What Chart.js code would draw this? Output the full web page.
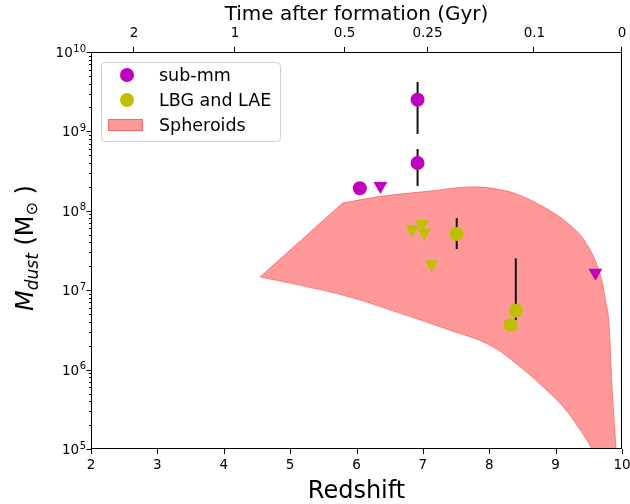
<!DOCTYPE html>
<html><head><meta charset="utf-8">
<script src="https://cdn.jsdelivr.net/npm/chart.js@4/dist/chart.umd.min.js"></script>
<style>html,body{margin:0;padding:0;background:#fff}#wrap{width:630px;height:504px}</style>
</head><body><div id="wrap"><canvas id="c" width="630" height="504"></canvas></div>
<script>
// ---- data ----
const subZ = [6.05, 6.92, 6.92];
const subM = [1.92e8, 2.5e9, 4.0e8];
const subErrLo = [null, 9.3e8, 2.05e8];
const subErrHi = [null, 4.2e9, 6.0e8];
const subLimZ = [6.36, 9.60];
const subLimM = [2.05e8, 1.66e7];

const lbgZ = [7.51, 8.40, 8.32];
const lbgM = [5.1e7, 5.5e6, 3.65e6];
const lbgErrLo = [3.3e7, 4.2e6, null];
const lbgErrHi = [8.1e7, 2.52e7, null];
const lbgLimZ = [6.84, 6.99, 7.02, 7.13];
const lbgLimM = [5.85e7, 6.8e7, 5.3e7, 2.12e7];

// Spheroids band: upper edge (left to right), lower edge (left to right); the corner at 5.79 is repeated to keep it sharp
const sphUpperZ = [4.55, 5.79, 5.79, 6.35, 7.10, 7.74, 8.15, 8.45, 8.90, 9.25, 9.46, 9.65, 9.76, 9.80, 9.85, 9.91, 9.93];
const sphUpperM = [1.47e7, 1.25e8, 1.25e8, 1.51e8, 1.77e8, 2.0e8, 1.85e8, 1.58e8, 1.02e8, 6.25e7, 3.9e7, 1.8e7, 6.9e6, 4.2e6, 6.0e5, 1.0e5, 5e4];
const sphLowerZ = [4.55, 5.14, 5.90, 6.65, 7.40, 8.00, 8.45, 8.83, 9.13, 9.35, 9.55, 9.65];
const sphLowerM = [1.47e7, 1.16e7, 8.2e6, 5.15e6, 3.15e6, 2.05e6, 1.11e6, 5.86e5, 3.28e5, 1.84e5, 1.0e5, 6.9e4];

const xTickVals = [2, 3, 4, 5, 6, 7, 8, 9, 10];
const yExponents = [5, 6, 7, 8, 9, 10];
const topTickZ = [2.65, 4.17, 5.82, 7.07, 8.68, 10];
const topTickLabels = ['2', '1', '0.5', '0.25', '0.1', '0'];

const legendLabels = ['sub-mm', 'LBG and LAE', 'Spheroids'];
const xTitle = 'Redshift';
const topTitle = 'Time after formation (Gyr)';

// ---- styles ----
const MAG = '#bf00bf', OLI = '#bfbf00';
const FILL = 'rgba(255,0,0,0.4)';
const EDGE = 'rgba(255,70,70,0.6)';
const FONT = '"DejaVu Sans"';

const pts = (xs, ys) => xs.map((x, i) => ({x, y: ys[i]}));
const polygon = pts(sphUpperZ, sphUpperM).concat(pts(sphLowerZ, sphLowerM).reverse());

const errSets = [];
function addErr(zs, lo, hi) {
  zs.forEach((z, i) => {
    if (lo[i] != null && hi[i] != null) {
      errSets.push({type: 'line', data: [{x: z, y: lo[i]}, {x: z, y: hi[i]}],
        borderColor: '#111', borderWidth: 2, pointRadius: 0, fill: false, order: 3});
    }
  });
}
addErr(subZ, subErrLo, subErrHi);
addErr(lbgZ, lbgErrLo, lbgErrHi);

const datasets = [
  {type: 'line', label: 'Spheroids', data: polygon, fill: 'shape', backgroundColor: FILL,
   borderColor: EDGE, borderWidth: 1, pointRadius: 0, tension: 0.4, order: 5},
  ...errSets,
  {label: 'sub-mm', data: pts(subZ, subM), pointStyle: 'circle', pointRadius: 7, backgroundColor: MAG, borderWidth: 0, order: 1},
  {label: 'sub-mm lim', data: pts(subLimZ, subLimM), pointStyle: 'triangle', rotation: 180, pointRadius: 8, backgroundColor: MAG, borderWidth: 0, order: 1},
  {label: 'LBG and LAE', data: pts(lbgZ, lbgM), pointStyle: 'circle', pointRadius: 7, backgroundColor: OLI, borderWidth: 0, order: 1},
  {label: 'LBG lim', data: pts(lbgLimZ, lbgLimM), pointStyle: 'triangle', rotation: 180, pointRadius: 8, backgroundColor: OLI, borderWidth: 0, order: 1}
];

const deco = {
  id: 'deco',
  afterDraw(chart) {
    const {ctx, chartArea: a, scales} = chart;
    ctx.save();
    ctx.strokeStyle = '#000';
    ctx.lineWidth = 1;
    // frame
    ctx.strokeRect(Math.round(a.left) + 0.5, Math.round(a.top) + 0.5, Math.round(a.right - a.left) - 1, Math.round(a.bottom - a.top) - 1);
    ctx.beginPath();
    xTickVals.forEach(v => {
      const x = Math.round(scales.x.getPixelForValue(v)) + 0.5;
      ctx.moveTo(x, a.bottom); ctx.lineTo(x, a.bottom + 5);
    });
    topTickZ.forEach(v => {
      const x = Math.round(scales.x.getPixelForValue(v)) - 0.5;
      ctx.moveTo(x, a.top); ctx.lineTo(x, a.top - 5);
    });
    yExponents.forEach(e => {
      for (let m = 1; m <= 9; m++) {
        const v = m * Math.pow(10, e);
        if (v > 1e10) break;
        const y = Math.round(scales.y.getPixelForValue(v)) + 0.5;
        const len = m === 1 ? 5 : 2.5;
        ctx.moveTo(a.left + 0.5, y); ctx.lineTo(a.left + 0.5 - len, y);
      }
    });
    ctx.stroke();

    // y tick labels (10^e)
    ctx.fillStyle = '#000';
    ctx.textBaseline = 'alphabetic';
    ctx.textAlign = 'left';
    const R = 86;
    yExponents.forEach(e => {
      const y = scales.y.getPixelForValue(Math.pow(10, e));
      ctx.font = '10px ' + FONT;
      const es = String(e);
      const ew = ctx.measureText(es).width;
      ctx.fillText(es, R - ew, y - 0.5);
      ctx.font = '13.5px ' + FONT;
      const bw = ctx.measureText('10').width;
      ctx.fillText('10', R - ew - bw - 0.5, y + 5);
    });

    // titles
    ctx.textAlign = 'center';
    ctx.font = '24px ' + FONT;
    ctx.fillText(xTitle, (a.left + a.right) / 2, 498);
    ctx.font = '20px ' + FONT;
    ctx.fillText(topTitle, (a.left + a.right) / 2, 20);

    // y title: M_dust (M⊙ )
    ctx.save();
    ctx.translate(33, 248);
    ctx.rotate(-Math.PI / 2);
    const parts = [
      {t: 'M', f: 'italic 24px ' + FONT, dy: 0},
      {t: 'dust', f: 'italic 17px ' + FONT, dy: 5},
      {t: ' (M', f: '24px ' + FONT, dy: 0},
      {t: '\u2299', f: '16px ' + FONT, dy: 4},
      {t: ' )', f: '24px ' + FONT, dy: 0}
    ];
    let tw = 0;
    parts.forEach(p => { ctx.font = p.f; p.w = ctx.measureText(p.t).width; tw += p.w; });
    let cx = -tw / 2;
    ctx.textAlign = 'left';
    parts.forEach(p => { ctx.font = p.f; ctx.fillText(p.t, cx, p.dy); cx += p.w; });
    ctx.restore();

    // legend
    const lx = 101, ly = 62, lw = 179, lh = 79;
    ctx.beginPath();
    ctx.roundRect(lx + 0.5, ly + 0.5, lw, lh, 4);
    ctx.fillStyle = 'rgba(255,255,255,0.8)';
    ctx.fill();
    ctx.strokeStyle = '#d0d0d0';
    ctx.stroke();
    const rows = [75, 100, 125];
    ctx.fillStyle = MAG;
    ctx.beginPath(); ctx.arc(127, rows[0], 7, 0, Math.PI * 2); ctx.fill();
    ctx.fillStyle = OLI;
    ctx.beginPath(); ctx.arc(127, rows[1], 7, 0, Math.PI * 2); ctx.fill();
    ctx.fillStyle = FILL;
    ctx.fillRect(108, rows[2] - 6, 35, 12);
    ctx.strokeStyle = EDGE;
    ctx.strokeRect(108.5, rows[2] - 5.5, 34, 11);
    ctx.fillStyle = '#000';
    ctx.font = '17.5px ' + FONT;
    ctx.textAlign = 'left';
    ctx.textBaseline = 'middle';
    legendLabels.forEach((t, i) => ctx.fillText(t, 159, rows[i] + 1));
    ctx.restore();
  }
};

new Chart(document.getElementById('c'), {
  type: 'scatter',
  data: {datasets},
  options: {
    responsive: false,
    animation: false,
    devicePixelRatio: 1,
    layout: {padding: {left: 0, right: 7, top: 0, bottom: 0}},
    plugins: {legend: {display: false}, tooltip: {enabled: false}},
    scales: {
      x: {
        type: 'linear', position: 'bottom', min: 2, max: 10,
        afterBuildTicks: s => { s.ticks = xTickVals.map(v => ({value: v})); },
        afterFit: s => { s.height = 55; s.paddingLeft = 0; s.paddingRight = 0; },
        grid: {display: false, drawTicks: false},
        border: {display: false},
        ticks: {autoSkip: false, maxRotation: 0, padding: 8, color: '#000', font: {family: 'DejaVu Sans', size: 13.5}}
      },
      xTop: {
        type: 'linear', position: 'top', min: 2, max: 10,
        afterBuildTicks: s => { s.ticks = topTickZ.map(v => ({value: v})); },
        afterFit: s => { s.height = 52; s.paddingLeft = 0; s.paddingRight = 0; },
        grid: {display: false, drawTicks: false},
        border: {display: false},
        ticks: {autoSkip: false, maxRotation: 0, padding: 10, color: '#000', font: {family: 'DejaVu Sans', size: 13.5},
          callback: (v, i) => topTickLabels[i]}
      },
      y: {
        type: 'logarithmic', position: 'left', min: 1e5, max: 1e10,
        afterFit: s => { s.width = 91; s.paddingTop = 0; s.paddingBottom = 0; },
        grid: {display: false, drawTicks: false},
        border: {display: false},
        ticks: {display: false}
      }
    }
  },
  plugins: [deco]
});
</script>
</body></html>
